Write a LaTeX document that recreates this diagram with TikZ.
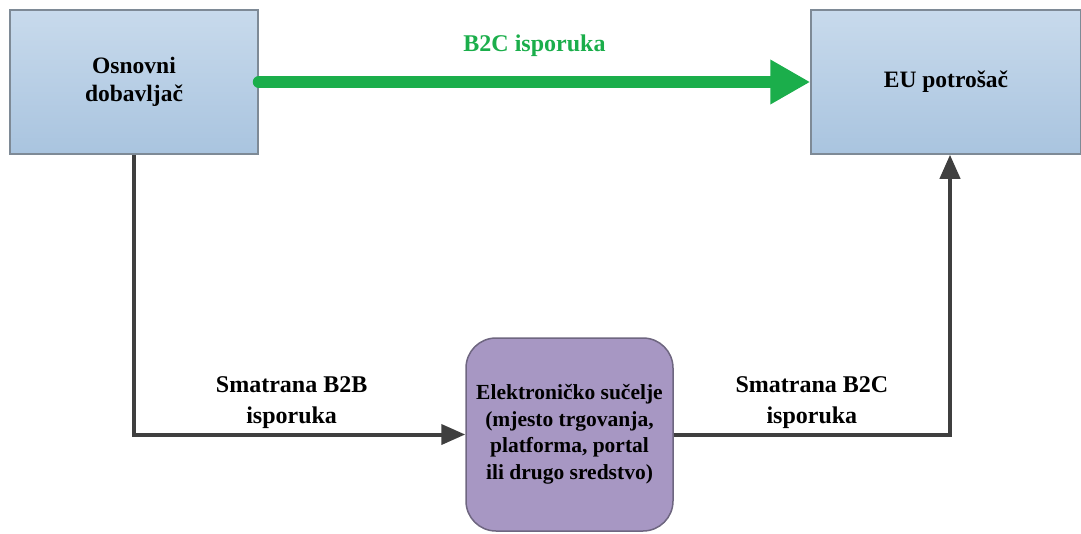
\documentclass[tikz,border=0pt]{standalone}
\usepackage{fontspec}
\setmainfont{Liberation Serif}
\usetikzlibrary{arrows.meta}

\definecolor{boxtop}{HTML}{C8DAEC}
\definecolor{boxbot}{HTML}{A9C4DF}
\definecolor{boxedge}{HTML}{7E8A96}
\definecolor{ifacefill}{HTML}{A797C3}
\definecolor{ifaceedge}{HTML}{6E6680}
\definecolor{flowgreen}{HTML}{1BAE4B}
\definecolor{flowgray}{HTML}{3F3F3F}

\tikzset{
	party/.style={draw=boxedge, line width=1.5pt, top color=boxtop, bottom color=boxbot,
		minimum width=248pt, minimum height=144pt, align=center,
		font=\bfseries\fontsize{23.5}{28}\selectfont},
	iface/.style={draw=ifaceedge, line width=1.5pt, fill=ifacefill, rounded corners=30pt,
		minimum width=207pt, minimum height=193pt, align=center,
		font=\bfseries\fontsize{21.5}{26.5}\selectfont},
	flow/.style={draw=flowgray, line width=4pt, -{Triangle[length=24pt,width=20pt]}},
	flowtext/.style={align=center, font=\bfseries\fontsize{24}{31}\selectfont}
}

\begin{document}
\begin{tikzpicture}[x=1pt, y=-1pt]
	\useasboundingbox (0,0) rectangle (1081,533);

	\node [party] (supplier) at (134,82) {Osnovni\\dobavljač};
	\node [party, minimum width=270pt] (consumer) at (946,82) {EU potrošač};
	\node [iface] (market) at (569.5,434.5) {Elektroničko sučelje\\(mjesto trgovanja,\\platforma, portal\\ili drugo sredstvo)};

	% direct supply
	\draw [flowgreen, line width=12pt, line cap=round, -{Triangle[length=40pt,width=42pt]}]
		(supplier.east) -- (consumer.west)
		node [midway, above=16pt, font=\bfseries\fontsize{24}{28}\selectfont] (b2c) {B2C isporuka};

	% deemed supplies
	\draw [flow] (supplier.south) |- (market.west)
		node [pos=0.75, above=1pt, xshift=-8pt, flowtext] (deemedb2b) {Smatrana B2B\\isporuka};
	\draw [flow] (market.east) -| ([xshift=4pt]consumer.south)
		node [pos=0.25, above=1pt, flowtext] (deemedb2c) {Smatrana B2C\\isporuka};
\end{tikzpicture}
\end{document}
